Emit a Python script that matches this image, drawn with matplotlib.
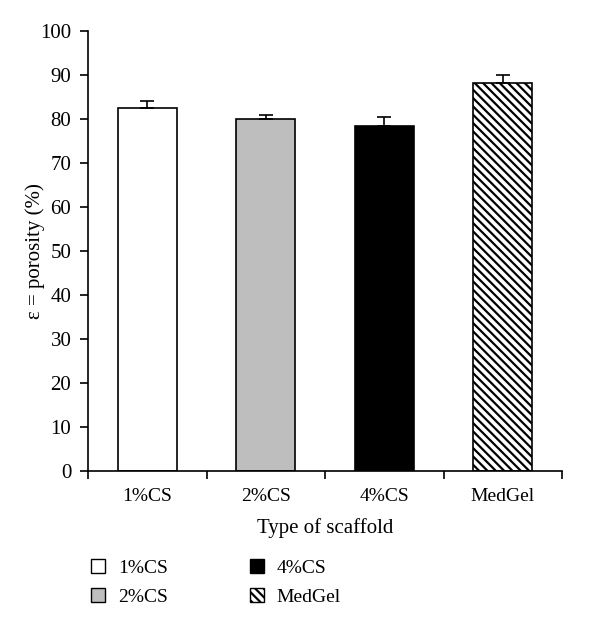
import matplotlib.pyplot as plt
from matplotlib.patches import Patch

plt.rcParams["font.family"] = ["Liberation Serif", "DejaVu Serif"]
plt.rcParams["hatch.linewidth"] = 1.6

categories = ["1%CS", "2%CS", "4%CS", "MedGel"]
porosity = [82.5, 80.0, 78.4, 88.2]
errors = [1.5, 0.9, 2.0, 1.8]
colors = ["white", "#bebebe", "black", "white"]
hatches = ["", "", "", "\\\\\\\\"]

fig = plt.figure(figsize=(6, 6.28), dpi=100)
ax = fig.add_axes([0.1467, 0.25, 0.79, 0.7006])

x = list(range(len(categories)))
ax.bar(x, porosity, width=0.5, color=colors, edgecolor="black",
       linewidth=1.2, hatch=hatches, zorder=2)
ax.errorbar(x, porosity, yerr=[[0] * len(errors), errors], fmt="none",
            ecolor="black", elinewidth=1.2, capsize=5, capthick=1.2, zorder=3)

ax.set_xlim(-0.5, len(categories) - 0.5)
ax.set_ylim(0, 100)
ax.set_yticks(range(0, 101, 10))
ax.set_xticks([i - 0.5 for i in range(len(categories) + 1)])
ax.set_xticklabels([])
ax.set_xticks(x, minor=True)
ax.set_xticklabels(categories, minor=True)
ax.tick_params(axis="x", which="minor", length=0, pad=12, labelsize=14)
ax.tick_params(axis="x", which="major", direction="out", length=6, width=1.2)
ax.tick_params(axis="y", direction="out", length=6, width=1.2, labelsize=15,
               pad=6)

for side in ["top", "right"]:
    ax.spines[side].set_visible(False)
for side in ["left", "bottom"]:
    ax.spines[side].set_linewidth(1.2)

ax.set_ylabel("ε = porosity (%)", fontsize=15)
ax.yaxis.set_label_coords(-0.09, 0.5)
ax.set_xlabel("Type of scaffold", fontsize=15, labelpad=10)

handles = [Patch(facecolor=c, edgecolor="black", hatch=h, linewidth=1.0)
           for c, h in zip(colors, hatches)]
fig.legend(handles, categories, ncol=2, loc="upper left",
           bbox_to_anchor=(0.152, 0.11), frameon=False, fontsize=14,
           borderpad=0, borderaxespad=0,
           handlelength=0.72, handleheight=0.72, columnspacing=4.2,
           labelspacing=0.6, handletextpad=0.67)

fig.savefig("out.png", dpi=100)
plt.close(fig)
